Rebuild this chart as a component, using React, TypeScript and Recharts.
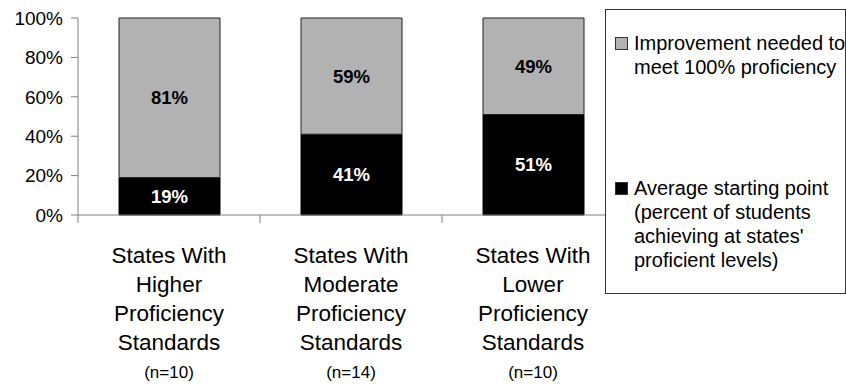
import { BarChart, Bar, XAxis, YAxis, Legend, LabelList } from "recharts";

const categoryLines = [
  ["States With", "Higher", "Proficiency", "Standards"],
  ["States With", "Moderate", "Proficiency", "Standards"],
  ["States With", "Lower", "Proficiency", "Standards"],
];
const sampleSizes = ["(n=10)", "(n=14)", "(n=10)"];
const startingPoint = [19, 41, 51];
const improvementNeeded = [81, 59, 49];
const yTicks = [0, 20, 40, 60, 80, 100];

const legendItems = [
  { color: "#b2b2b2", lines: ["Improvement needed to", "meet 100% proficiency"] },
  { color: "#000000", lines: ["Average starting point", "(percent of students", "achieving at states'", "proficient levels)"] },
];

const data = categoryLines.map((lines, i) => ({
  name: lines[1],
  start: startingPoint[i],
  improve: improvementNeeded[i],
}));

const FONT = "'Liberation Sans', Arial, sans-serif";
const PLOT_W = 546;
const BAND = PLOT_W / data.length;
const AXIS = "#808080";

function CategoryTick(props: any) {
  const { x, y, index } = props;
  const lines = categoryLines[index];
  return (
    <g>
      <line x1={x - BAND / 2} x2={x - BAND / 2} y1={y - 8} y2={y} stroke={AXIS} />
      {index === data.length - 1 && (
        <line x1={x + BAND / 2} x2={x + BAND / 2} y1={y - 8} y2={y} stroke={AXIS} />
      )}
      <text textAnchor="middle" fontSize={22.5} fill="#000" fontFamily={FONT}>
        {lines.map((l, i) => (
          <tspan key={i} x={x} y={y + 40 + i * 29}>
            {l}
          </tspan>
        ))}
      </text>
      <text x={x} y={y + 155} textAnchor="middle" fontSize={17} fill="#000" fontFamily={FONT}>
        {sampleSizes[index]}
      </text>
    </g>
  );
}

function LegendBox() {
  const tops = [21, 166];
  return (
    <div
      style={{
        position: "relative",
        width: 239,
        height: 283,
        border: "1px solid #333",
        background: "#fff",
        fontFamily: FONT,
        fontSize: 20,
        lineHeight: "24px",
        color: "#000",
      }}
    >
      {legendItems.map((item, i) => (
        <div key={i} style={{ position: "absolute", left: 9, top: tops[i], display: "flex" }}>
          <div
            style={{
              width: 11,
              height: 11,
              marginTop: 6,
              marginRight: 6,
              background: item.color,
              border: "1px solid #333",
              flexShrink: 0,
            }}
          />
          <div>
            {item.lines.map((l, j) => (
              <div key={j} style={{ whiteSpace: "nowrap" }}>
                {l}
              </div>
            ))}
          </div>
        </div>
      ))}
    </div>
  );
}

export default function App() {
  return (
    <div style={{ position: "absolute", left: 0, top: 0, background: "#fff" }}>
      <BarChart
        width={846}
        height={387}
        data={data}
        margin={{ top: 18, right: 222, left: 0, bottom: 0 }}
        barSize={101}
      >
        <YAxis
          width={78}
          domain={[0, 100]}
          ticks={yTicks}
          tickFormatter={(v: number) => `${v}%`}
          stroke={AXIS}
          tickSize={7}
          tickMargin={8}
          tick={{ fill: "#000", fontSize: 19, fontFamily: FONT }}
          interval={0}
        />
        <XAxis
          dataKey="name"
          height={172}
          stroke={AXIS}
          tickLine={false}
          tickSize={8}
          tickMargin={0}
          interval={0}
          tick={<CategoryTick />}
        />
        <Legend
          layout="vertical"
          align="center"
          verticalAlign="middle"
          wrapperStyle={{ left: 605, top: 9, width: 241, height: 285 }}
          content={() => <LegendBox />}
        />
        <Bar dataKey="start" stackId="a" fill="#000" stroke="#000" strokeWidth={1} isAnimationActive={false}>
          <LabelList
            dataKey="start"
            position="center"
            formatter={(v: any) => `${v}%`}
            fill="#fff"
            fontSize={18.5}
            fontWeight="bold"
            fontFamily={FONT}
          />
        </Bar>
        <Bar dataKey="improve" stackId="a" fill="#b2b2b2" stroke="#222" strokeWidth={1} isAnimationActive={false}>
          <LabelList
            dataKey="improve"
            position="center"
            formatter={(v: any) => `${v}%`}
            fill="#000"
            fontSize={18.5}
            fontWeight="bold"
            fontFamily={FONT}
          />
        </Bar>
      </BarChart>
    </div>
  );
}
